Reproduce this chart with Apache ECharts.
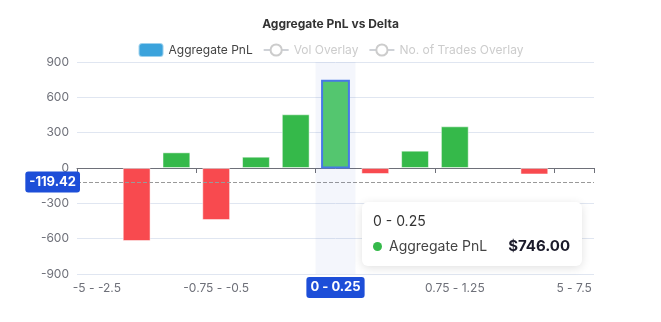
<!DOCTYPE html>
<html>
<head>
<meta charset="utf-8">
<script src="https://cdn.jsdelivr.net/npm/echarts@6/dist/echarts.min.js"></script>
<style>
  html, body { margin: 0; padding: 0; background: #fff; }
  #chart { width: 661px; height: 322px; }
</style>
</head>
<body>
<div id="chart"></div>
<script>
const titleText = 'Aggregate PnL vs Delta';
const seriesNames = ['Aggregate PnL', 'Vol Overlay', 'No. of Trades Overlay'];
const categories = ['-5 - -2.5', '-2.5 - -1.25', '-1.25 - -0.75', '-0.75 - -0.5', '-0.5 - -0.25', '-0.25 - 0',
  '0 - 0.25', '0.25 - 0.5', '0.5 - 0.75', '0.75 - 1.25', '1.25 - 2.5', '2.5 - 5', '5 - 7.5'];
const pnlValues = [null, -620, 133, -442, 96, 456, 746, -51, 147, 354, null, -55, null];
const volOverlay = [];
const tradesOverlay = [];
const yMin = -900, yMax = 900, yInterval = 300;
const hoveredIndex = 6;
const pointerValue = -119.42;

const GREEN = '#35b94a', RED = '#f84a4f';
const FONT = 'Inter, "Noto Sans", sans-serif';

const barData = pnlValues.map(v => v == null ? '-' : ({
  value: v,
  itemStyle: { color: v >= 0 ? GREEN : RED },
  emphasis: { itemStyle: { color: v >= 0 ? '#57cd6b' : '#fa7377', borderColor: '#4a7be8', borderWidth: 2 } }
}));

const chart = echarts.init(document.getElementById('chart'), null, { renderer: 'canvas' });
chart.setOption({
  animation: false,
  textStyle: { fontFamily: FONT },
  title: {
    text: titleText, left: 'center', top: 13,
    textStyle: { fontFamily: FONT, fontSize: 12, fontWeight: 'bold', color: '#333' }
  },
  legend: {
    top: 37, left: 'center', itemGap: 10,
    data: seriesNames,
    selected: { 'Vol Overlay': false, 'No. of Trades Overlay': false },
    textStyle: { fontFamily: FONT, fontSize: 12, color: '#444' },
    inactiveColor: '#ccc'
  },
  grid: { left: 77, right: 67, top: 62, bottom: 48 },
  tooltip: {
    trigger: 'axis',
    alwaysShowContent: true,
    transitionDuration: 0,
    position: function (point) { return [point[0] + 20, point[1] + 20]; },
    backgroundColor: '#fff',
    borderWidth: 0,
    padding: [9, 12, 10, 11],
    extraCssText: 'border-radius:6px;box-shadow:0 2px 10px rgba(0,0,0,0.12);',
    axisPointer: {
      type: 'shadow',
      shadowStyle: { color: 'rgba(40,70,190,0.05)' },
      label: {
        show: true, backgroundColor: '#1d4ed8', color: '#fff',
        fontFamily: FONT, fontWeight: 'bold', fontSize: 13,
        padding: [4, 4, 4, 4], borderRadius: 3
      }
    },
    formatter: function (params) {
      const p = params.find(q => q.seriesName === 'Aggregate PnL') || params[0];
      const v = Number(p.value);
      const txt = '$' + v.toLocaleString('en-US', { minimumFractionDigits: 2, maximumFractionDigits: 2 });
      return '<div style="font-family:' + FONT.replace(/"/g, "'") + ';">' +
        '<div style="font-size:14px;line-height:20px;color:#333;">' + p.name + '</div>' +
        '<div style="display:flex;align-items:center;margin-top:5px;line-height:20px;">' +
        '<span style="display:inline-block;width:9px;height:9px;border-radius:50%;background:' + p.color + ';margin-right:7px;"></span>' +
        '<span style="font-size:14px;color:#444;">' + p.seriesName + '</span>' +
        '<span style="font-size:15px;font-weight:bold;color:#1a1a2a;margin-left:21px;">' + txt + '</span>' +
        '</div></div>';
    }
  },
  xAxis: [
    {
      type: 'category', data: categories, position: 'bottom',
      axisLine: { show: false, onZero: false },
      axisTick: { show: false },
      axisLabel: { interval: 2, color: '#6e7079', fontSize: 12, fontFamily: FONT, margin: 8 },
      splitLine: { show: false }
    },
    {
      type: 'category', data: categories, position: 'bottom',
      axisLine: { show: true, onZero: true, lineStyle: { color: '#6e7079' } },
      axisTick: { show: true, interval: 2, length: 5, lineStyle: { color: '#6e7079' } },
      axisLabel: { show: false },
      axisPointer: { show: false }
    }
  ],
  yAxis: {
    type: 'value', min: yMin, max: yMax, interval: yInterval,
    axisLine: { show: false }, axisTick: { show: false },
    axisLabel: { color: '#6e7079', fontSize: 12, fontFamily: FONT, margin: 8 },
    splitLine: { lineStyle: { color: '#e0e6f1' } },
    axisPointer: {
      show: true, type: 'line', triggerTooltip: false, triggerEmphasis: false,
      lineStyle: { type: 'dashed', color: '#999', width: 1 },
      label: {
        show: true, backgroundColor: '#1d4ed8', color: '#fff',
        fontFamily: FONT, fontWeight: 'bold', fontSize: 13,
        padding: [4, 4, 4, 4], borderRadius: 3, margin: -3,
        formatter: function (p) { return Number(p.value).toFixed(2); }
      }
    }
  },
  series: [
    {
      name: 'Aggregate PnL', type: 'bar', xAxisIndex: 0, yAxisIndex: 0,
      color: '#3ba3dc',
      barWidth: '70%',
      itemStyle: { borderColor: 'rgba(255,255,255,0.5)', borderWidth: 1 },
      data: barData
    },
    { name: 'Vol Overlay', type: 'line', xAxisIndex: 0, yAxisIndex: 0, data: volOverlay },
    { name: 'No. of Trades Overlay', type: 'line', xAxisIndex: 0, yAxisIndex: 0, data: tradesOverlay }
  ]
});

const px = chart.convertToPixel({ xAxisIndex: 0 }, categories[hoveredIndex]);
const py = chart.convertToPixel({ yAxisIndex: 0 }, pointerValue);
chart.dispatchAction({ type: 'showTip', x: px + 6, y: py });
chart.dispatchAction({ type: 'highlight', seriesIndex: 0, dataIndex: hoveredIndex });
</script>
</body>
</html>
